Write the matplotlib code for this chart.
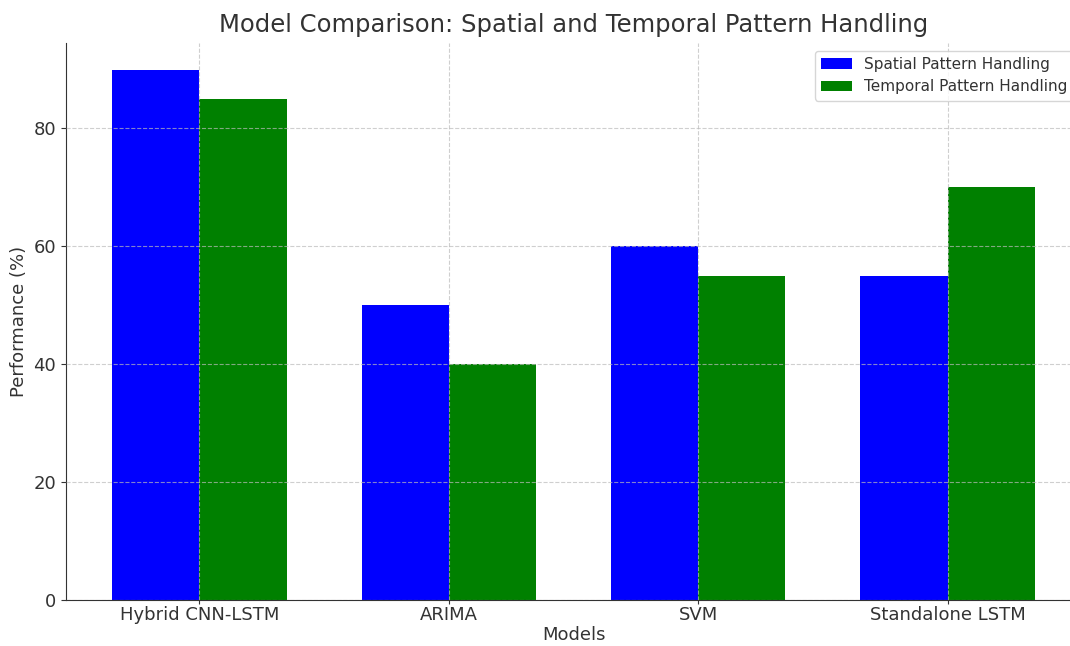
import matplotlib
matplotlib.use("Agg")
import matplotlib.pyplot as plt
import numpy as np

models = ["Hybrid CNN-LSTM", "ARIMA", "SVM", "Standalone LSTM"]
spatial = [90, 50, 60, 55]
temporal = [85, 40, 55, 70]

plt.rcParams["text.color"] = "#333333"
plt.rcParams["axes.labelcolor"] = "#333333"
plt.rcParams["xtick.color"] = "#333333"
plt.rcParams["ytick.color"] = "#333333"
plt.rcParams["axes.edgecolor"] = "#333333"

fig = plt.figure(figsize=(10.7, 6.46), dpi=100)
# axes runs slightly past the right edge, like the cropped original
ax = fig.add_axes([66 / 1070, 46 / 646, 1015 / 1070, 557 / 646])

x = np.arange(len(models))
width = 0.35
ax.bar(x - width / 2, spatial, width, color="blue", label="Spatial Pattern Handling")
ax.bar(x + width / 2, temporal, width, color="green", label="Temporal Pattern Handling")

ax.set_title("Model Comparison: Spatial and Temporal Pattern Handling", fontsize=17.5, pad=8)
ax.set_xlabel("Models", fontsize=13, labelpad=1)
ax.set_ylabel("Performance (%)", fontsize=13)
ax.set_xticks(x)
ax.set_xticklabels(models, fontsize=13)
ax.tick_params(axis="x", pad=1.5, length=3)
ax.tick_params(axis="y", labelsize=13)
ax.set_yticks([0, 20, 40, 60, 80])
ax.grid(True, linestyle="--", color="#bbbbbb", linewidth=0.8, alpha=0.7)
ax.set_axisbelow(False)
ax.spines["top"].set_visible(False)
ax.spines["right"].set_visible(False)
ax.legend(loc="upper right", fontsize=11)

fig.savefig("out.png", dpi=100)
